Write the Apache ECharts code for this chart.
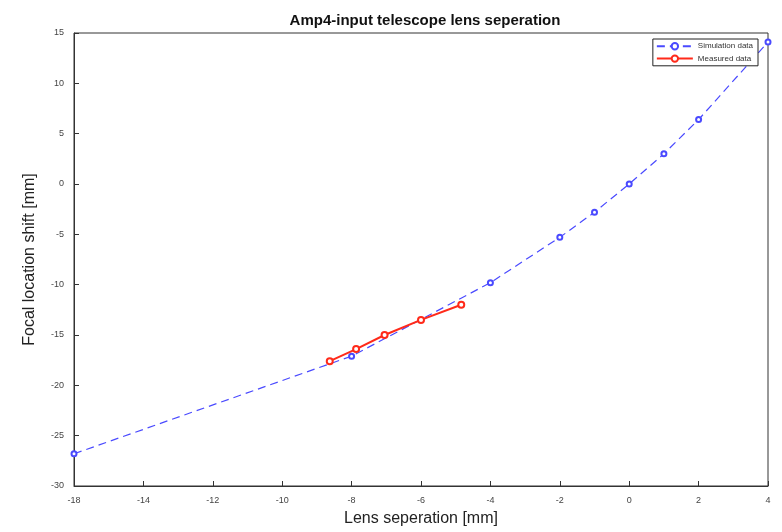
<!DOCTYPE html>
<html>
<head>
<meta charset="utf-8">
<script src="https://cdn.jsdelivr.net/npm/echarts@6/dist/echarts.min.js"></script>
<style>html,body{margin:0;padding:0;background:#fff}#c{width:782px;height:532px}</style>
</head>
<body>
<div id="c"></div>
<script>
var simX = [-16, -8, -4, -2, -1, 0, 1, 2, 4];
var simY = [-26.8, -17.1, -9.8, -5.3, -2.8, 0, 3.0, 6.4, 14.1];
var measX = [-8.63, -7.87, -7.05, -6.0, -4.84];
var measY = [-17.6, -16.4, -15.0, -13.5, -12.0];
var xTickValues = [-16, -14, -12, -10, -8, -6, -4, -2, 0, 2, 4];
var xTickLabels = ['-18', '-14', '-12', '-10', '-8', '-6', '-4', '-2', '0', '2', '4'];

var chart = echarts.init(document.getElementById('c'));
function pairs(xs, ys){ return xs.map(function(x,i){ return [x, ys[i]]; }); }
var axisCommon = {
  axisLine: {show: true, onZero: false, lineStyle: {color: '#333', width: 1}},
  axisTick: {show: true, inside: true, length: 5, lineStyle: {color: '#333'}},
  splitLine: {show: false},
  axisLabel: {color: '#444', fontSize: 9, fontFamily: 'Liberation Sans'}
};
chart.setOption({
  animation: false,
  backgroundColor: '#fff',
  title: {
    text: 'Amp4-input telescope lens seperation',
    left: 420, top: 8, textAlign: 'center',
    textStyle: {fontSize: 15, fontWeight: 'bold', color: '#111', fontFamily: 'Liberation Sans'}
  },
  grid: {left: 74, right: 14, top: 33, bottom: 44, show: true, borderColor: '#333', borderWidth: 1},
  legend: {
    right: 24, top: 39, orient: 'vertical', itemGap: 4, itemWidth: 36, itemHeight: 8,
    borderColor: '#222', borderWidth: 1, padding: [3, 5, 3, 3],
    backgroundColor: '#fff',
    textStyle: {fontSize: 8, color: '#333', fontFamily: 'Liberation Sans'},
    data: ['Simulation data', 'Measured data']
  },
  xAxis: Object.assign({}, axisCommon, {
    type: 'value', min: -16, max: 4, interval: 2,
    name: 'Lens seperation [mm]', nameLocation: 'middle', nameGap: 25,
    nameTextStyle: {fontSize: 16, color: '#222', fontFamily: 'Liberation Sans'},
    axisLabel: Object.assign({}, axisCommon.axisLabel, {
      margin: 10,
      formatter: function(v){ var i = xTickValues.indexOf(v); return i >= 0 ? xTickLabels[i] : ''; }
    })
  }),
  yAxis: Object.assign({}, axisCommon, {
    type: 'value', min: -30, max: 15, interval: 5,
    name: 'Focal location shift [mm]', nameLocation: 'middle', nameGap: 36,
    nameTextStyle: {fontSize: 16, color: '#222', fontFamily: 'Liberation Sans'},
    axisLabel: Object.assign({}, axisCommon.axisLabel, {margin: 10})
  }),
  series: [
    {
      name: 'Simulation data', type: 'line', data: pairs(simX, simY),
      symbol: 'emptyCircle', symbolSize: 5,
      lineStyle: {color: '#4a4aff', width: 1.2, type: [8, 5]},
      itemStyle: {color: '#4a4aff', borderColor: '#4a4aff', borderWidth: 1},
      z: 2
    },
    {
      name: 'Measured data', type: 'line', data: pairs(measX, measY),
      symbol: 'emptyCircle', symbolSize: 6,
      lineStyle: {color: '#ff2a1a', width: 2},
      itemStyle: {color: '#ff2a1a', borderColor: '#ff2a1a', borderWidth: 2},
      z: 3
    }
  ]
});
</script>
</body>
</html>
